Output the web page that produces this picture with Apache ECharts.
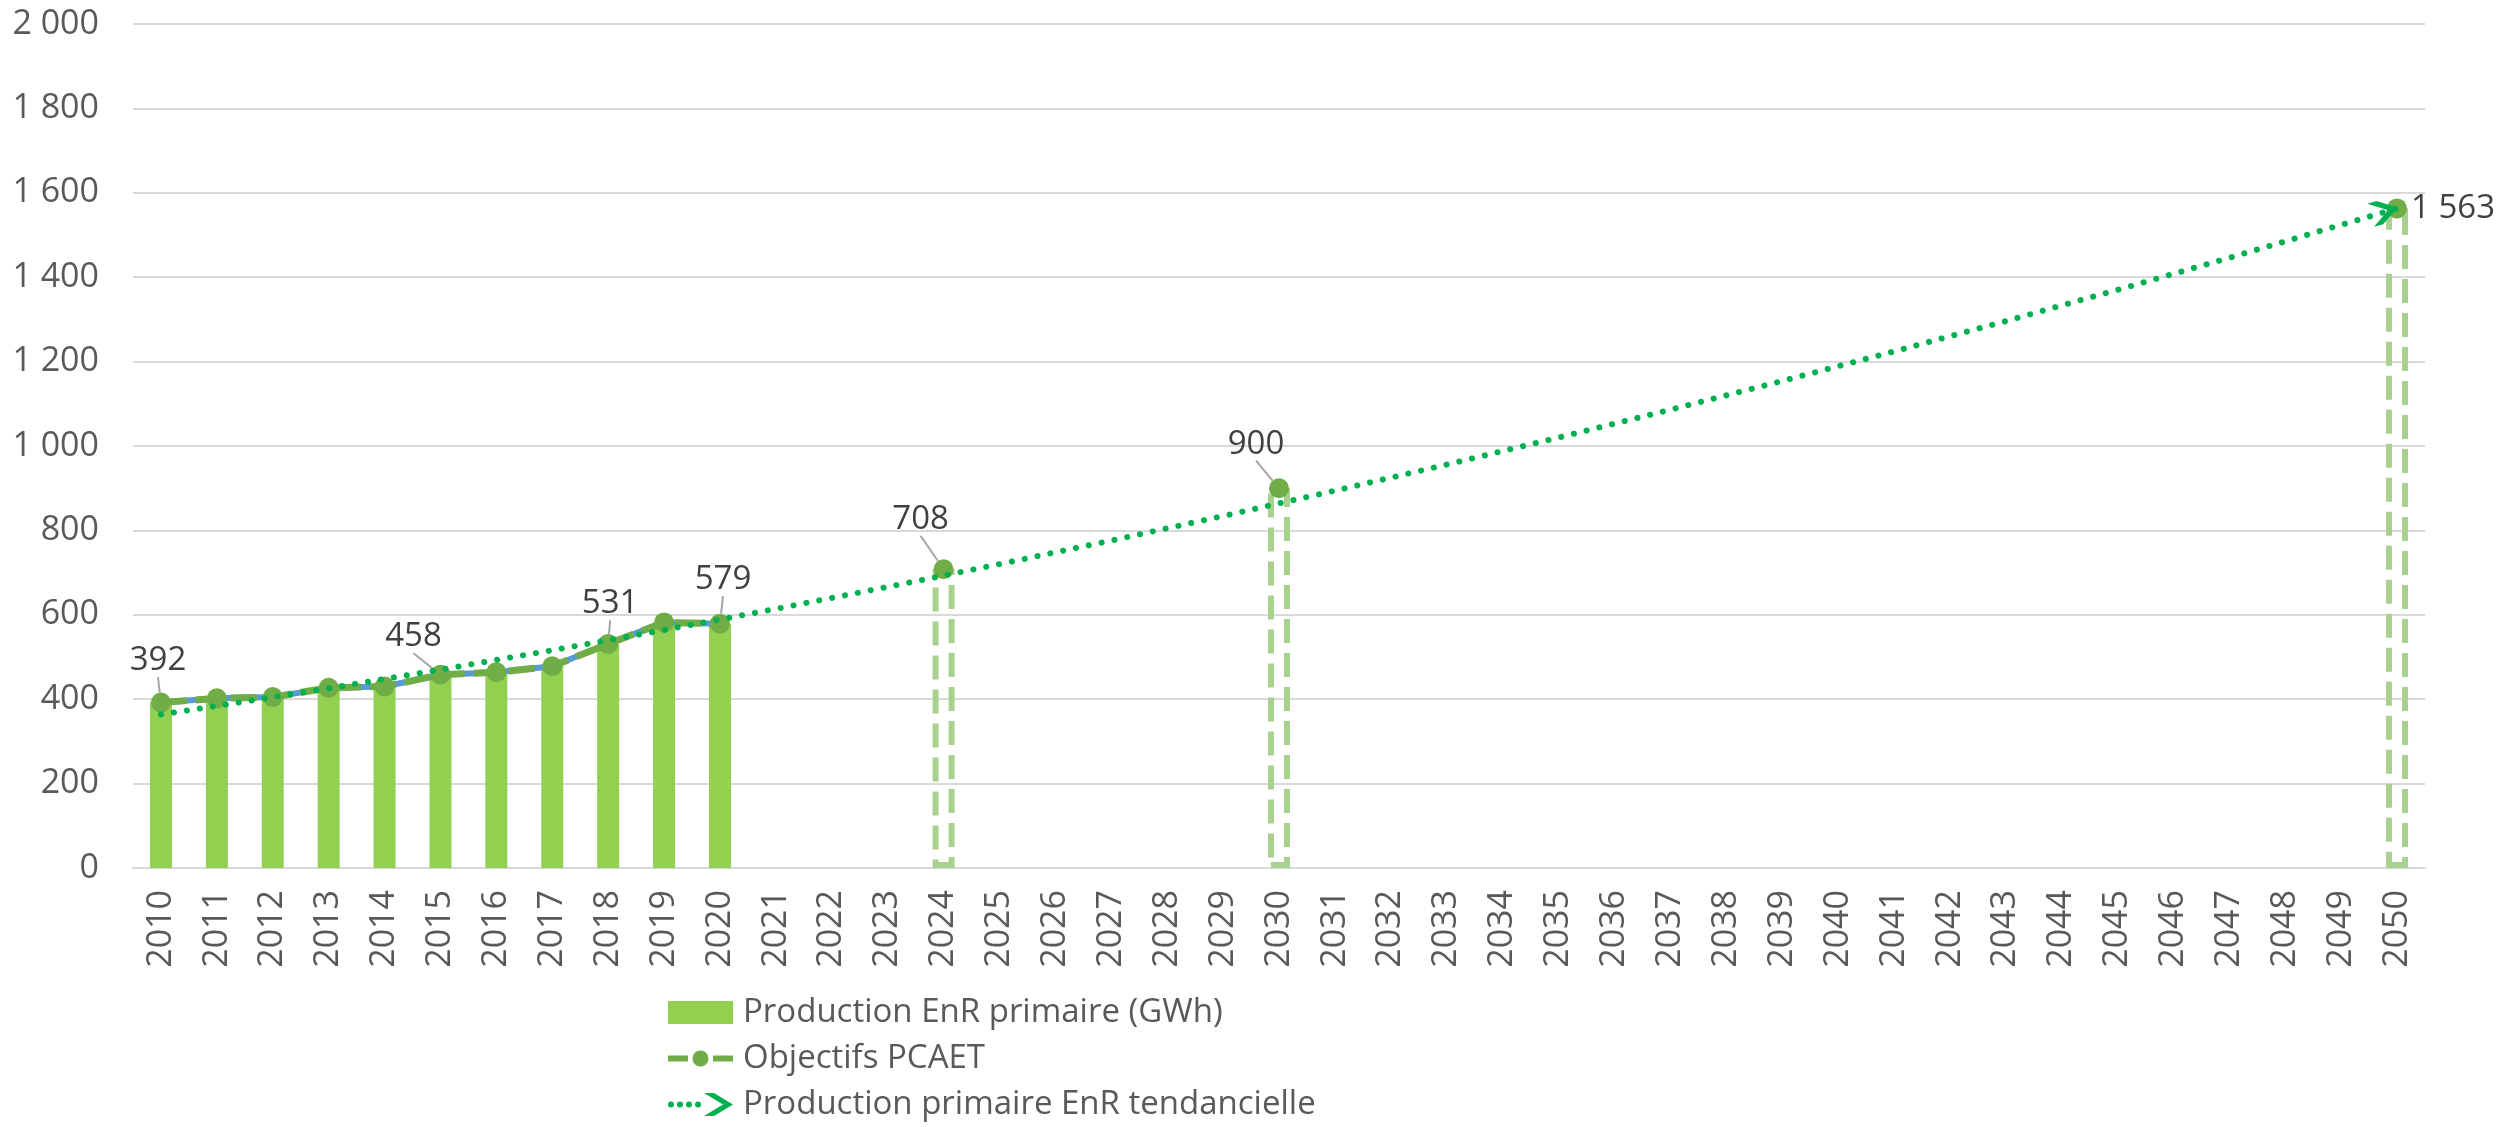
<!DOCTYPE html>
<html style="height: 100%">
<head>
    <meta charset="utf-8">
</head>
<body style="height: 100%; margin: 0; background: #fff">
<div id="container" style="width:2496px; height:1127px"></div>
<script type="text/javascript" src="https://cdn.jsdelivr.net/npm/echarts@6/dist/echarts.min.js"></script>

<script type="text/javascript">

    var years = ['2010', '2011', '2012', '2013', '2014', '2015', '2016', '2017', '2018', '2019',
        '2020', '2021', '2022', '2023', '2024', '2025', '2026', '2027', '2028', '2029',
        '2030', '2031', '2032', '2033', '2034', '2035', '2036', '2037', '2038', '2039',
        '2040', '2041', '2042', '2043', '2044', '2045', '2046', '2047', '2048', '2049', '2050'];

    // production EnR primaire (GWh), 2010-2020
    var production = [392, 402, 405, 427, 430, 458, 464, 478, 531, 582, 579];

    // objectifs PCAET (historique + cibles 2024, 2030, 2050)
    var objectifs = [392, 402, 405, 427, 430, 458, 464, 478, 531, 582, 579,
        null, null, null, 708, null, null, null, null, null,
        900, null, null, null, null, null, null, null, null, null,
        null, null, null, null, null, null, null, null, null, null, 1563];

    // courbe tendancielle
    var tendance = [364, 384, 405, 426, 448, 470, 493, 516, 540, 564,
        589, 614, 640, 666, 693, 720, 748, 776, 805, 834,
        864, 894, 925, 956, 988, 1020, 1053, 1086, 1120, 1154,
        1189, 1224, 1260, 1296, 1333, 1370, 1408, 1446, 1485, 1524, 1563];

    var yTicks = [0, 200, 400, 600, 800, 1000, 1200, 1400, 1600, 1800, 2000];

    // labels moved away from their point (dx, dy)
    var labelShift = {
        '2010': [-3, -42], '2015': [-27, -38], '2018': [2, -40], '2020': [3, -44],
        '2024': [-23, -50], '2030': [-23, -44]
    };

    var arrowPath = 'path://M0,0 L10,0 L29,11.5 L10,23 L0,23 L19,11.5 Z';

    function dot(x, y, r) {
        return 'M' + (x - r) + ',' + y + ' a' + r + ',' + r + ' 0 1,0 ' + (2 * r) + ',0 a' + r + ',' + r + ' 0 1,0 ' + (-2 * r) + ',0 Z';
    }
    var trendIcon = 'path://' + dot(3, 11.5, 3) + dot(12, 11.5, 3) + dot(21, 11.5, 3) + dot(30, 11.5, 3) +
        'M36,0 L46,0 L65,11.5 L46,23 L36,23 L55,11.5 Z';
    var pcaetIcon = 'path://M0,8.5 L20,8.5 L20,14.5 L0,14.5 Z M45,8.5 L65,8.5 L65,14.5 L45,14.5 Z' +
        dot(32.5, 11.5, 8) + ' M0,0 L0.01,0 L0.01,0.01 Z M65,23 L64.99,23 L64.99,22.99 Z';

    function fmt(v) {
        if (v >= 1000) {
            var r = String(v % 1000);
            while (r.length < 3) r = '0' + r;
            return Math.floor(v / 1000) + ' ' + r;
        }
        return String(v);
    }

    var last = years.length - 1;

    var pcaetData = objectifs.map(function (v, i) {
        var item = {value: v};
        if (labelShift[years[i]]) {
            item.label = {show: true, position: 'inside'};
        } else if (i === last) {
            item.label = {show: true, position: 'right', distance: 4};
            item.labelLine = {show: false};
        }
        return item;
    });

    var outlineData = objectifs.map(function (v, i) {
        return i > 10 ? v : null;
    });

    var trendData = tendance.map(function (v, i) {
        if (i === last) {
            return {
                value: v, symbol: arrowPath, symbolSize: [28, 24],
                symbolRotate: 16, symbolOffset: [-13, 3],
                itemStyle: {color: '#00B050'}
            };
        }
        return v;
    });

    var dom = document.getElementById("container");
    var myChart = echarts.init(dom);
    var option = {
        animation: false,
        textStyle: {fontFamily: 'Open Sans'},
        grid: {left: 133, right: 71, top: 24, bottom: 259, containLabel: false},
        legend: {
            orient: 'vertical',
            left: 668,
            top: 996,
            padding: 0,
            itemWidth: 65,
            itemHeight: 23,
            itemGap: 13,
            textStyle: {fontSize: 33, color: '#595959', fontFamily: 'Open Sans', lineHeight: 32, padding: [0, 0, 0, 5]},
            data: [
                {name: 'Production EnR primaire (GWh)', icon: 'rect', itemStyle: {color: '#92D050'}},
                {name: 'Objectifs PCAET', icon: pcaetIcon, itemStyle: {color: '#70AD47'}},
                {name: 'Production primaire EnR tendancielle', icon: trendIcon, itemStyle: {color: '#00B050'}}
            ]
        },
        xAxis: {
            type: 'category',
            data: years,
            boundaryGap: true,
            axisLine: {lineStyle: {color: '#d9d9d9', width: 2}},
            axisTick: {show: false},
            axisLabel: {
                interval: 0, rotate: 90, margin: 22,
                fontSize: 34, color: '#595959', fontFamily: 'Open Sans'
            }
        },
        yAxis: {
            type: 'value',
            min: yTicks[0],
            max: yTicks[yTicks.length - 1],
            interval: 200,
            axisLine: {show: false},
            axisTick: {show: false},
            splitLine: {lineStyle: {color: '#d9d9d9', width: 2}},
            axisLabel: {
                margin: 34, fontSize: 34, color: '#595959', fontFamily: 'Open Sans',
                formatter: fmt
            }
        },
        series: [{
            name: 'Production EnR primaire (GWh)',
            type: 'bar',
            data: production,
            barWidth: 22,
            itemStyle: {color: '#92D050'},
            z: 1
        }, {
            name: 'cibles',
            type: 'bar',
            data: outlineData,
            barWidth: 22,
            barGap: '-100%',
            itemStyle: {
                color: 'rgba(0,0,0,0)',
                borderColor: '#A9D18E',
                borderWidth: 6,
                borderType: [24, 10]
            },
            z: 1
        }, {
            name: 'historique',
            type: 'line',
            data: production,
            symbol: 'none',
            lineStyle: {color: '#5B9BD5', width: 6},
            z: 2
        }, {
            name: 'Objectifs PCAET',
            type: 'line',
            data: pcaetData,
            symbol: 'circle',
            symbolSize: 20,
            showAllSymbol: true,
            itemStyle: {color: '#70AD47'},
            lineStyle: {color: '#70AD47', width: 7, type: [26, 9]},
            label: {
                show: false, fontSize: 33, color: '#404040', fontFamily: 'Open Sans',
                formatter: function (p) { return fmt(p.value); }
            },
            labelLine: {show: true, lineStyle: {color: '#a6a6a6', width: 2}},
            labelLayout: function (p) {
                var s = labelShift[years[p.dataIndex]];
                if (!s) return {};
                return {dx: s[0], dy: s[1]};
            },
            z: 3
        }, {
            name: 'Production primaire EnR tendancielle',
            type: 'line',
            data: trendData,
            symbol: 'none',
            showSymbol: true,
            showAllSymbol: true,
            itemStyle: {color: '#00B050'},
            lineStyle: {color: '#00B050', width: 6, type: [0.1, 13], cap: 'round'},
            z: 4
        }]
    };
    myChart.setOption(option);

</script>

</body>
</html>
